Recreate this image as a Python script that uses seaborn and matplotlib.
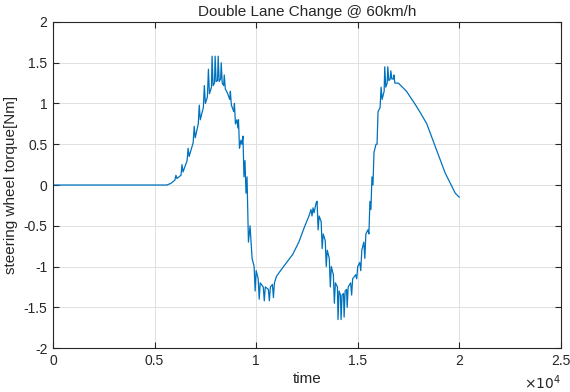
import matplotlib
matplotlib.use("Agg")
import matplotlib.pyplot as plt
import seaborn as sns
import pandas as pd

time = [0, 5600, 5800, 6000, 6050, 6100, 6300, 6350, 6400, 6600, 6650, 6700,
        6900, 6950, 7000, 7150, 7200, 7250, 7400, 7450, 7500, 7600, 7650, 7700,
        7800, 7830, 7880, 7950, 7980, 8030, 8100, 8130, 8180, 8250, 8280, 8330,
        8400, 8430, 8480, 8600, 8700, 8730, 8780, 8900, 8930, 8980, 9050, 9100,
        9130, 9180, 9250, 9300, 9350, 9400, 9450, 9500, 9550, 9620, 9700, 9800,
        9850, 9900, 9950, 10000, 10100, 10150, 10200, 10350, 10400, 10450, 10600,
        10650, 10700, 10800, 10850, 10900, 11000, 11200, 11500, 11800, 12100,
        12400, 12600, 12700, 12750, 12800, 12850, 12950, 13000, 13050, 13100,
        13200, 13250, 13300, 13400, 13450, 13500, 13600, 13650, 13700, 13800,
        13850, 13900, 14000, 14030, 14080, 14150, 14180, 14230, 14300, 14330,
        14380, 14450, 14480, 14530, 14650, 14700, 14750, 14900, 14950, 15000,
        15100, 15150, 15200, 15300, 15350, 15400, 15500, 15550, 15600, 15650,
        15700, 15750, 15800, 15900, 15950, 16000, 16100, 16150, 16200, 16300,
        16330, 16380, 16450, 16480, 16530, 16600, 16630, 16680, 16750, 16780,
        16830, 17000, 17400, 17800, 18100, 18400, 18700, 19000, 19300, 19600,
        19800, 20000]
torque = [0, 0, 0.02, 0.06, 0.12, 0.08, 0.12, 0.25, 0.16, 0.3, 0.45, 0.35,
          0.52, 0.72, 0.58, 0.75, 0.98, 0.8, 0.95, 1.22, 1.0, 1.08, 1.42, 1.12,
          1.2, 1.58, 1.22, 1.25, 1.58, 1.27, 1.28, 1.58, 1.27, 1.3, 1.5, 1.25,
          1.22, 1.35, 1.18, 1.12, 1.05, 1.15, 0.98, 0.9, 1.0, 0.75, 0.8, 0.7,
          0.8, 0.45, 0.55, 0.5, 0.6, 0.1, 0.3, -0.1, 0.1, -0.7, -0.5, -0.9,
          -0.95, -1.0, -1.3, -1.05, -1.15, -1.4, -1.2, -1.25, -1.42, -1.25, -1.28,
          -1.42, -1.25, -1.22, -1.38, -1.2, -1.12, -1.05, -0.95, -0.85, -0.7,
          -0.5, -0.38, -0.3, -0.38, -0.28, -0.34, -0.22, -0.2, -0.55, -0.38,
          -0.45, -0.78, -0.6, -0.68, -1.0, -0.8, -0.9, -1.25, -1.0, -1.1,
          -1.45, -1.2, -1.25, -1.65, -1.3, -1.35, -1.65, -1.35, -1.33, -1.62,
          -1.3, -1.28, -1.5, -1.25, -1.2, -1.35, -1.15, -1.1, -1.15, -1.0,
          -0.95, -1.05, -0.8, -0.7, -0.9, -0.6, -0.55, -0.6, -0.2, -0.3,
          0.1, 0.0, 0.4, 0.5, 0.5, 0.9, 0.95, 1.2, 1.05, 1.15,
          1.45, 1.2, 1.25, 1.45, 1.28, 1.3, 1.4, 1.3, 1.3, 1.35,
          1.25, 1.25, 1.15, 1.0, 0.88, 0.75, 0.55, 0.35, 0.15, 0.0,
          -0.1, -0.15]

xticks = [0, 5000, 10000, 15000, 20000, 25000]
xtick_labels = ["0", "0.5", "1", "1.5", "2", "2.5"]
yticks = [-2, -1.5, -1, -0.5, 0, 0.5, 1, 1.5, 2]
ytick_labels = ["-2", "-1.5", "-1", "-0.5", "0", "0.5", "1", "1.5", "2"]

df = pd.DataFrame({"time": time, "torque": torque})

sns.set_style("whitegrid")
plt.rcParams["font.family"] = ["Liberation Sans", "DejaVu Sans"]

fig = plt.figure(figsize=(5.7, 3.92), dpi=100)
ax = fig.add_axes([0.093, 0.112, 0.891, 0.832])
sns.lineplot(data=df, x="time", y="torque", ax=ax, sort=False, estimator=None,
             color="#0072BD", linewidth=0.9)

ax.set_xlim(0, 25000)
ax.set_ylim(-2, 2)
ax.set_xticks(xticks)
ax.set_xticklabels(xtick_labels)
ax.set_yticks(yticks)
ax.set_yticklabels(ytick_labels)
ax.grid(True, color="#e0e0e0", linewidth=0.7)
for s in ax.spines.values():
    s.set_visible(True)
    s.set_color("#262626")
    s.set_linewidth(0.8)
ax.tick_params(direction="in", length=4, width=0.8, color="#262626",
               top=True, right=True, bottom=True, left=True,
               labelsize=10, labelcolor="#262626", pad=4)
ax.set_xlabel("time", fontsize=11, color="#262626", labelpad=3)
ax.set_ylabel("steering wheel torque[Nm]", fontsize=11, color="#262626", labelpad=4)
ax.set_title("Double Lane Change @ 60km/h", fontsize=11, color="#262626", pad=4)
ax.text(1.0, -0.105, r"$\times10^{4}$", transform=ax.transAxes, ha="right", va="center",
        fontsize=10, color="#262626")

fig.savefig("out.png", dpi=100)
